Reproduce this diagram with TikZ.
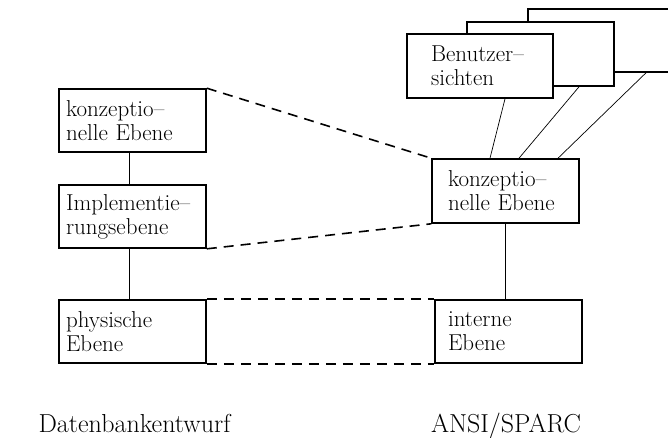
\documentclass[tikz,border=0pt]{standalone}
\usetikzlibrary{calc}
\tikzset{
  lvl/.style={draw, line width=1.6pt, fill=white, rectangle, align=left,
    minimum height=63pt, font=\fontsize{23}{24}\selectfont},
  thin/.style={line width=0.7pt},
  dash link/.style={line width=1.6pt, dash pattern=on 10pt off 7pt},
  caption/.style={anchor=base, font=\fontsize{26}{28}\selectfont, inner sep=0pt}
}
\begin{document}
\begin{tikzpicture}[x=1pt,y=-1pt]
\useasboundingbox (0,0) rectangle (668,437);
\clip (0,0) rectangle (668,437);
% left column
\node[lvl, inner xsep=7pt, text width=133pt] (LK) at (132.5,120.5) {konzeptio–\\nelle Ebene};
\node[lvl, inner xsep=7pt, text width=133pt] (LI) at (132.5,216.5) {Implementie–\\rungsebene};
\node[lvl, inner xsep=7pt, text width=133pt] (LP) at (132.5,331.5) {physische\\Ebene};
% right column
\node[lvl, inner xsep=16pt, text width=115pt, minimum height=64pt] (RK) at (505.5,191) {konzeptio–\\nelle Ebene};
\node[lvl, inner xsep=13pt, text width=121pt] (RI) at (508.5,331.5) {interne\\Ebene};
% user views (back to front)
\node[lvl, text width=133pt, inner xsep=7pt, minimum height=63pt] (B3) at (601.5,40.5) {};
\node[lvl, text width=133pt, inner xsep=7pt, minimum height=64pt] (B2) at (540.5,54) {};
\draw[thin] ([xshift=44.5pt]B3.south) -- ([xshift=52.5pt]RK.north);
\draw[thin] ([xshift=38.5pt]B2.south) -- ([xshift=13.5pt]RK.north);
\node[lvl, inner xsep=24pt, text width=98pt, minimum height=64pt] (B1) at (480,66) {Benutzer–\\sichten};
\draw[thin] ([xshift=25pt]B1.south) -- ([xshift=-15.5pt]RK.north);
% vertical links
\draw[thin] ([xshift=-3pt]LK.south) -- ([xshift=-3pt]LI.north);
\draw[thin] ([xshift=-3pt]LI.south) -- ([xshift=-3pt]LP.north);
\draw[thin] (RK.south) -- (RK.south |- RI.north);
% dashed correspondences
\draw[dash link] (LK.north east) -- (RK.north west);
\draw[dash link] (LI.south east) -- (RK.south west);
\draw[dash link] (LP.north east) -- (RI.north west);
\draw[dash link] (LP.south east) -- (RI.south west);
% captions
\node[caption] (c1) at (134.5,432) {Datenbankentwurf};
\node[caption] (c2) at (506,432) {ANSI/SPARC};
\end{tikzpicture}
\end{document}
